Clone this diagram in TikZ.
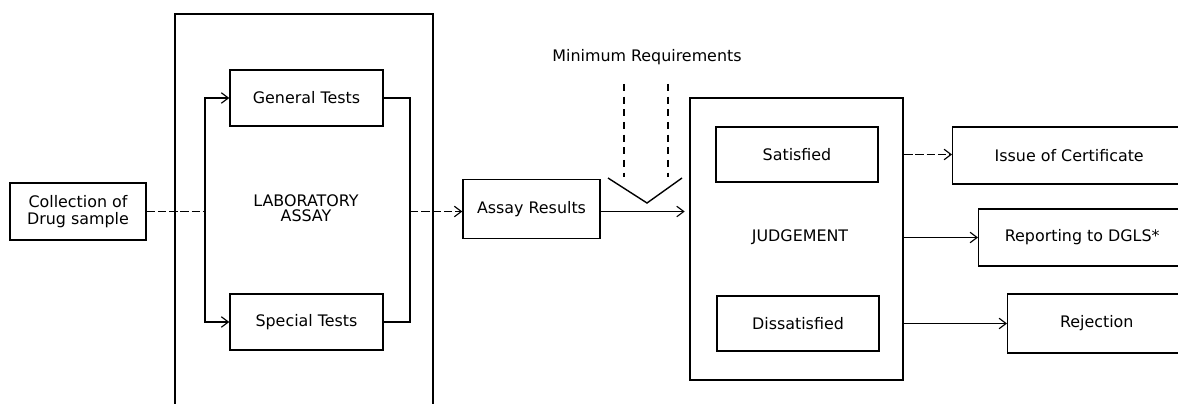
\documentclass[tikz,border=0pt]{standalone}
\usepackage{fontspec}
\setmainfont{DejaVu Sans}
\usetikzlibrary{arrows.meta}

\begin{document}
\begin{tikzpicture}[x=0.025cm,y=-0.025cm,>={Straight Barb[length=5pt,width=7.5pt]},
  line width=0.8pt,
  every node/.style={font=\fontsize{11.3}{12.5}\selectfont},
  box/.style={draw,line width=1pt,minimum width=#1,inner sep=0pt,align=center},
  frame/.style={draw,line width=1.5pt,inner sep=0pt},
  link/.style={->,shorten >=3pt}]
  \useasboundingbox (0,0) rectangle (1178,403);
  % frames
  \node[frame,minimum width=6.45cm,minimum height=10.4cm] (lab) at (304,222) {};
  \node[frame,minimum width=5.325cm,minimum height=7.05cm] (judge) at (796.5,239) {};
  \node[align=center,font=\fontsize{11.3}{11}\selectfont] (labtext) at (306,208) {LABORATORY\\ASSAY};
  \node (judgetext) at (800,237) {JUDGEMENT};
  % boxes
  \node[box=3.4cm,minimum height=1.425cm,font=\fontsize{11.3}{11.6}\selectfont] (coll) at (78,211.5) {Collection of\\Drug sample};
  \node[box=3.825cm,minimum height=1.4cm] (gen) at (306.5,98) {General Tests};
  \node[box=3.825cm,minimum height=1.4cm] (spec) at (306.5,322) {Special Tests};
  \node[box=3.425cm,minimum height=1.475cm] (assay) at (531.5,209) {Assay Results};
  \node[box=4.05cm,minimum height=1.375cm] (sat) at (797,154.5) {Satisfied};
  \node[box=4.05cm,minimum height=1.375cm] (dis) at (798,323.5) {Dissatisfied};
  \node[box=5.825cm,minimum height=1.425cm,anchor=west] (issue) at (952,155.5) {Issue of Certificate};
  \node[box=5.175cm,minimum height=1.425cm,anchor=west] (report) at (978,237.5) {Reporting to DGLS*};
  \node[box=4.45cm,minimum height=1.475cm,anchor=west] (reject) at (1007,323.5) {Rejection};
  \node (minreq) at (647,57) {Minimum Requirements};
  % bracket points
  \coordinate (brL) at (205,211.5);
  \coordinate (brR) at (410,211.5);
  \coordinate (vL) at (608,178);
  \coordinate (vM) at (647,203);
  \coordinate (vR) at (682,178);
  % connectors
  \draw[dashed,dash pattern=on 6pt off 2pt] (coll.east) -- (brL);
  \draw[->] (brL) |- (gen.west);
  \draw[->] (brL) |- (spec.west);
  \draw (gen.east) -| (brR) |- (spec.east);
  \draw[->,dashed,dash pattern=on 6pt off 2pt] (brR) -- (assay.west |- brR);
  \draw[link] (assay.east |- brR) -- (judge.west |- brR);
  \draw[line width=1pt] (vL) -- (vM) -- (vR);
  \draw[dashed,dash pattern=on 5pt off 4pt] (minreq.south -| 624,0) ++(0,14) -- (624,177);
  \draw[dashed,dash pattern=on 5pt off 4pt] (minreq.south -| 668,0) ++(0,14) -- (668,177);
  \draw[->,dashed,dash pattern=on 6pt off 2pt] (judge.east |- sat) -- (issue.west |- sat);
  \draw[->] (judge.east |- report) -- (report.west);
  \draw[->] (judge.east |- dis) -- (reject.west |- dis);
\end{tikzpicture}
\end{document}
